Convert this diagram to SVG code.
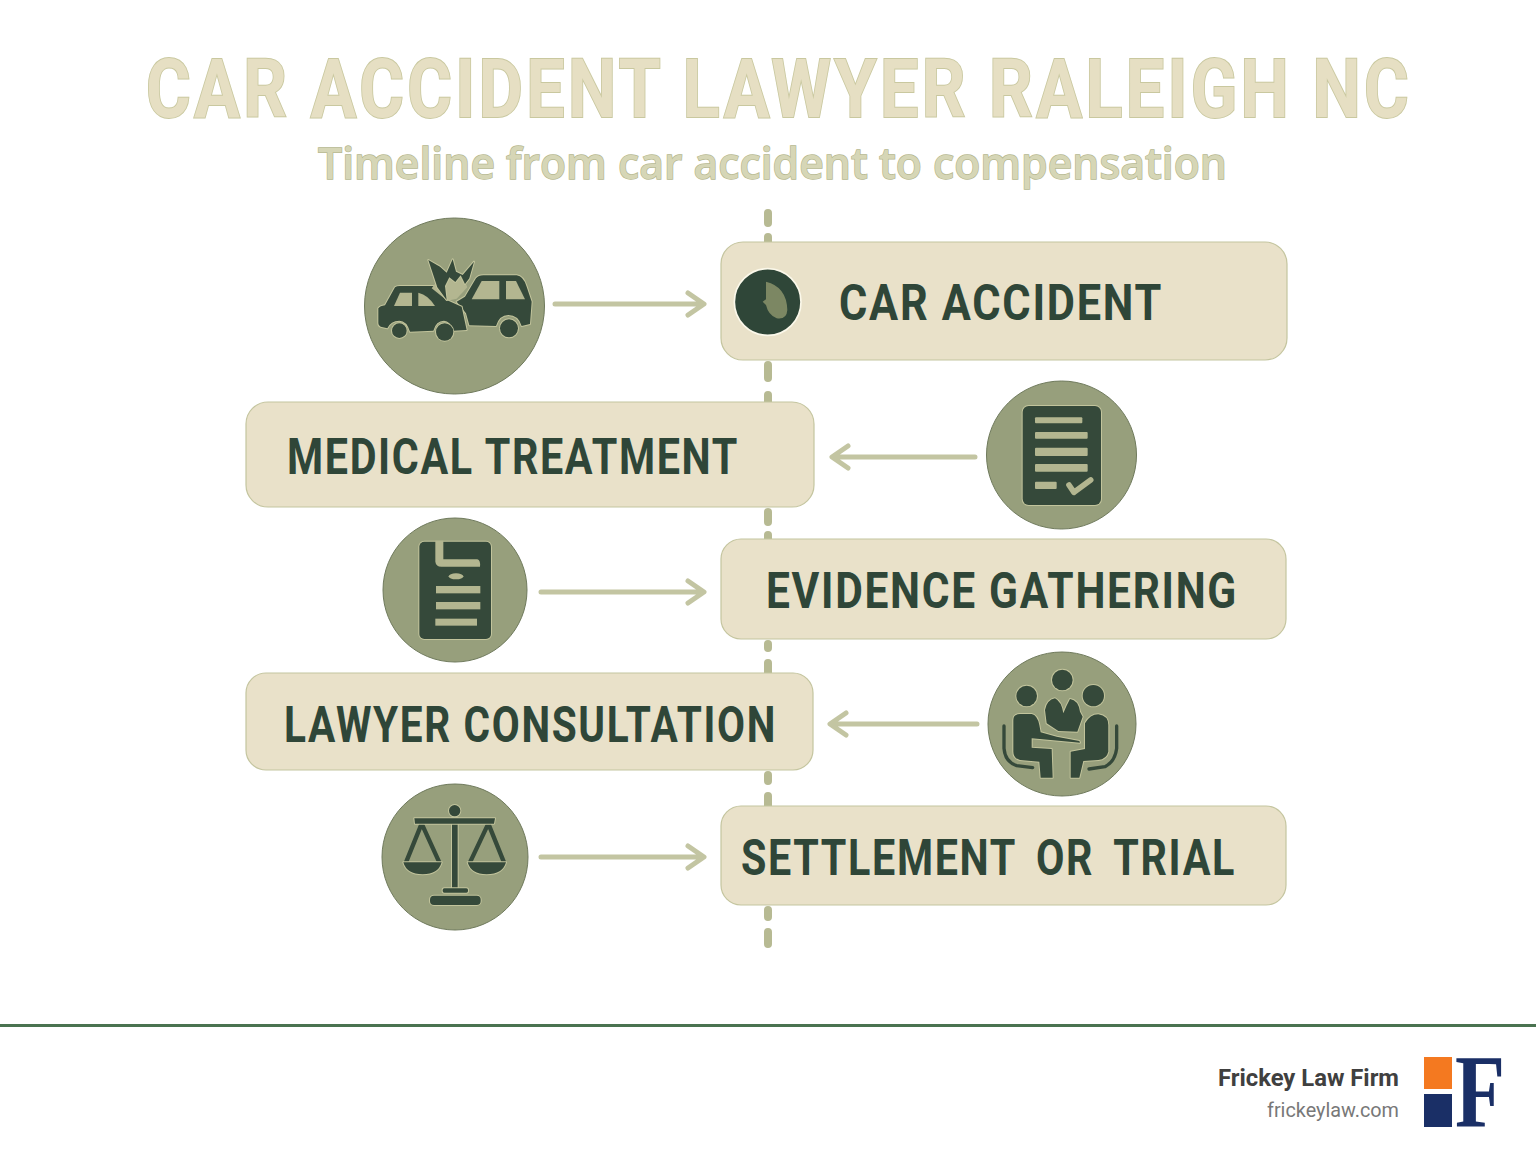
<svg xmlns="http://www.w3.org/2000/svg" width="1536" height="1154" viewBox="0 0 1536 1154">
<style>
.title{font-family:Roboto,"Liberation Sans",sans-serif;font-weight:700;font-size:81px;letter-spacing:4px;fill:#e6dfc3;stroke:#c9c89f;stroke-width:2;paint-order:stroke}
.sub{font-family:"Open Sans","Liberation Sans",sans-serif;font-weight:600;font-size:44px;fill:#d6d6b6;stroke:#b5b78f;stroke-width:1.4;paint-order:stroke}
.card{fill:#e9e1c9;stroke:#c4c59f;stroke-width:1.2}
.lbl{font-family:Roboto,"Liberation Sans",sans-serif;font-weight:700;font-size:50px;letter-spacing:2px;fill:#2f4638}
.disc{fill:#979f7c;stroke:#6f7a5c;stroke-width:1}
.ic{fill:#35493a;stroke:#c2c49c;stroke-width:6;stroke-linejoin:round;paint-order:stroke}
.lt{fill:#b3b690;stroke:none}
.ltl{fill:none;stroke:#b3b690;stroke-linecap:round;stroke-linejoin:round}
.dk{fill:none;stroke:#35493a;stroke-linecap:round;stroke-linejoin:round}
.dash{stroke:#b7ba93;stroke-width:8;stroke-linecap:round;fill:none}
.arr{stroke:#c3c5a2;stroke-width:5;stroke-linecap:round;stroke-linejoin:round;fill:none}
.foot{font-family:Roboto,"Liberation Sans",sans-serif}
</style>
<rect width="1536" height="1154" fill="#ffffff"/>
<text class="title" x="146" y="117" textLength="1266" lengthAdjust="spacingAndGlyphs">CAR ACCIDENT LAWYER RALEIGH NC</text>
<text class="sub" x="318" y="179" textLength="909" lengthAdjust="spacingAndGlyphs">Timeline from car accident to compensation</text>

<g id="connectors">
<g id="timeline">
<path class="dash" d="M768 213V223M768 237V250M768 365V378M768 395V410M768 512V522M768 535V545M768 644V648M768 663V678M768 775V781M768 796V812M768 910V917M768 932V944"/>
</g>
<g id="arrows">
<path class="arr" d="M555 304H703M688 293L704 304L688 315"/>
<path class="arr" d="M975 457H834M848 446L832 457L848 468"/>
<path class="arr" d="M541 592H703M688 581L704 592L688 603"/>
<path class="arr" d="M977 724H832M846 713L830 724L846 735"/>
<path class="arr" d="M541 857H703M688 846L704 857L688 868"/>
</g>
</g>

<g id="step1">
<rect class="card" x="721" y="242" width="566" height="118" rx="22"/>
<g transform="translate(350 200) scale(.33333)">
<circle cx="1253" cy="306" r="100" fill="#2f4638" stroke="#fbf8ea" stroke-width="5"/>
<path d="M1248 245Q1310 260 1312 330Q1310 360 1280 355Q1255 345 1248 315L1238 305L1248 298Z" fill="#7c8763"/>
</g>
<text class="lbl" x="839" y="320" textLength="324" lengthAdjust="spacingAndGlyphs">CAR ACCIDENT</text>
</g>
<g id="icon-crash">
<ellipse class="disc" cx="454.500" cy="306" rx="90" ry="88"/>
<g transform="translate(350 200) scale(.33333)">
<path class="ic" d="M345 290L378 235Q385 226 400 226L500 226Q520 228 530 260L545 305L540 372L515 378Q505 345 475 345Q448 345 438 378L358 376L348 340L320 305Z"/>
<path class="lt" d="M365 298L395 243L448 243L448 298Z"/><path class="lt" d="M468 243L498 243L525 298L468 298Z"/>
<circle class="ic" cx="477" cy="385" r="27"/>
<path class="ic" d="M85 325Q90 318 105 316L135 262Q140 258 150 258L250 258L262 270L290 300L335 320L350 390L310 392Q300 362 282 362Q258 362 250 392L180 395Q170 362 148 362Q122 362 112 385L92 380Q85 378 85 370Z"/>
<path class="lt" d="M132 318L150 278L186 278L186 318Z"/><path class="lt" d="M205 278Q235 285 255 318L205 318Z"/>
<circle class="ic" cx="148" cy="392" r="22"/><circle class="ic" cx="284" cy="396" r="26"/>
<path class="lt" d="M245 265L275 225L335 222L352 262L320 296L292 302Z"/>
<path class="ic" d="M235 180L270 200L290 218L308 178L318 215L338 225L372 185L358 235L345 252L332 226L316 246L298 232L285 258L290 300L262 262Z"/>
</g>
</g>

<g id="step2">
<rect class="card" x="246" y="402" width="568" height="105" rx="22"/>
<text class="lbl" x="287" y="474" textLength="452" lengthAdjust="spacingAndGlyphs">MEDICAL TREATMENT</text>
</g>
<g id="icon-report">
<ellipse class="disc" cx="1061.500" cy="455" rx="75" ry="74"/>
<g transform="translate(800 370) scale(.33333)">
<rect class="ic" x="668" y="108" width="235" height="297" rx="18"/>
<rect class="lt" x="705" y="142" width="142" height="18" rx="3"/>
<rect class="lt" x="705" y="186" width="158" height="20" rx="3"/>
<rect class="lt" x="705" y="233" width="158" height="25" rx="3"/>
<rect class="lt" x="705" y="282" width="158" height="23" rx="3"/>
<rect class="lt" x="705" y="335" width="65" height="22" rx="3"/>
<path class="ltl" stroke-width="17" d="M807 345L822 367L872 330"/>
</g>
</g>

<g id="step3">
<rect class="card" x="721" y="539" width="565" height="100" rx="20"/>
<text class="lbl" x="766" y="608" textLength="472" lengthAdjust="spacingAndGlyphs">EVIDENCE GATHERING</text>
</g>
<g id="icon-evidence">
<circle class="disc" cx="455" cy="590" r="72"/>
<g transform="translate(370 510) scale(.33333)">
<rect class="ic" x="148" y="95" width="215" height="292" rx="15"/>
<path class="lt" d="M196 92H220V148H322Q332 150 330 170H214Q198 170 196 155Z"/>
<ellipse class="lt" cx="258" cy="199" rx="22" ry="9"/>
<rect class="lt" x="198" y="228" width="133" height="22"/>
<rect class="lt" x="198" y="276" width="133" height="22"/>
<rect class="lt" x="196" y="326" width="125" height="21"/>
</g>
</g>

<g id="step4">
<rect class="card" x="246" y="673" width="567" height="97" rx="20"/>
<text class="lbl" x="284" y="742" textLength="493" lengthAdjust="spacingAndGlyphs">LAWYER CONSULTATION</text>
</g>
<g id="icon-meeting">
<ellipse class="disc" cx="1062" cy="724" rx="74" ry="72"/>
<g transform="translate(800 645) scale(.33333)">
<circle class="ic" cx="787" cy="105" r="31"/><circle class="ic" cx="680" cy="153" r="31"/><circle class="ic" cx="880" cy="152" r="32"/>
<path class="ic" d="M735 195Q740 165 765 160Q785 170 790 205Q800 180 810 162Q835 165 840 200L848 215L832 260L775 258L740 235Z"/>
<path class="ic" d="M640 225Q640 207 660 207L695 207Q712 210 718 240L722 262L770 275L838 288L840 293L695 280L695 308L755 312L758 398L722 398L718 350L660 345Q640 340 640 320Z"/>
<path class="ic" d="M855 235Q870 208 895 208Q925 212 925 240L925 320Q920 342 895 345L850 348L838 398L812 398L812 320L855 312Z"/>
<path class="dk" stroke-width="10" d="M612 243V310Q615 350 650 362L698 368"/>
<path class="dk" stroke-width="10" d="M950 243V310Q945 350 915 365L867 372"/>
</g>
</g>

<g id="step5">
<rect class="card" x="721" y="806" width="565" height="99" rx="20"/>
<text class="lbl" x="741" y="875" textLength="495" lengthAdjust="spacingAndGlyphs" style="word-spacing:10px">SETTLEMENT OR TRIAL</text>
</g>
<g id="icon-scales">
<circle class="disc" cx="455" cy="857" r="73"/>
<g transform="translate(370 775) scale(.33333)">
<path class="dk" stroke-width="13" d="M155 146L108 262M155 146L208 262M355 146L300 262M355 146L402 262"/>
<path class="ic" d="M100 262L215 262Q205 298 158 298Q110 298 100 262Z"/>
<path class="ic" d="M293 262L408 262Q398 298 350 298Q303 298 293 262Z"/>
<rect class="ic" x="246" y="130" width="17" height="220"/>
<circle class="ic" cx="254" cy="107" r="17"/>
<path class="ic" d="M133 130L375 130L372 146L135 146Z"/>
<rect class="ic" x="218" y="340" width="76" height="13" rx="5"/>
<rect class="ic" x="180" y="362" width="152" height="28" rx="12"/>
</g>
</g>

<g id="footer">
<rect x="0" y="1024" width="1536" height="3" fill="#4a7350"/>
<text class="foot" x="1218" y="1086" font-size="24" font-weight="700" fill="#404040" textLength="181" lengthAdjust="spacingAndGlyphs">Frickey Law Firm</text>
<text class="foot" x="1267" y="1117" font-size="21" fill="#787878" textLength="132" lengthAdjust="spacingAndGlyphs">frickeylaw.com</text>
<rect x="1424" y="1057" width="28" height="32" fill="#f47920"/>
<rect x="1424" y="1094" width="28" height="33" fill="#1a2f66"/>
<text x="1455" y="1126" font-family="'Liberation Serif',serif" font-weight="700" font-size="103" fill="#1a2f66" textLength="50" lengthAdjust="spacingAndGlyphs">F</text>
</g>
</svg>
